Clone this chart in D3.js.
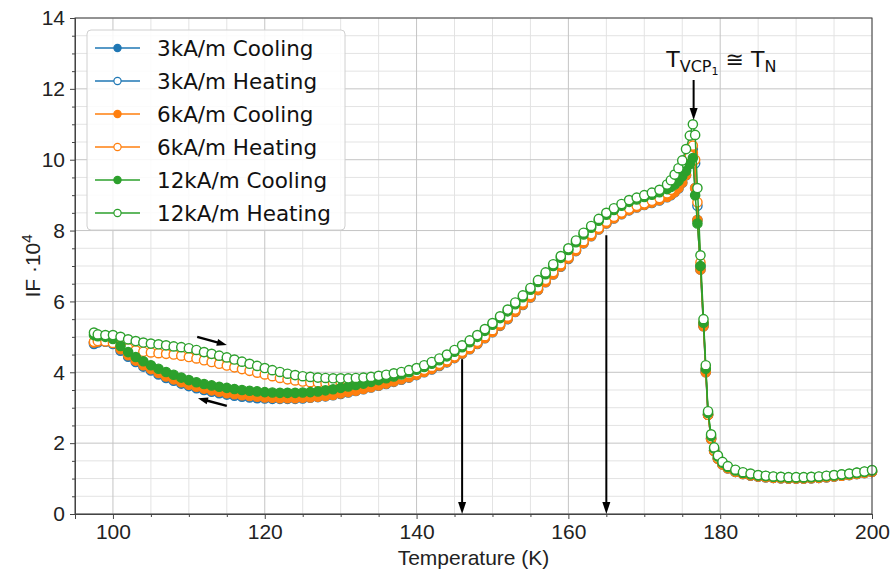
<!DOCTYPE html>
<html>
<head>
<meta charset="utf-8">
<script src="https://cdn.jsdelivr.net/npm/d3@7"></script>
<style>
  body { margin: 0; background: #fff; }
  svg { display: block; }
</style>
</head>
<body>
<div id="chart"></div>
<script>
"use strict";

// temperature (K), shared by all six series
const temps = [
  97.5, 98, 99, 100, 101, 102, 103, 104, 105, 106,
  107, 108, 109, 110, 111, 112, 113, 114, 115, 116,
  117, 118, 119, 120, 121, 122, 123, 124, 125, 126,
  127, 128, 129, 130, 131, 132, 133, 134, 135, 136,
  137, 138, 139, 140, 141, 142, 143, 144, 145, 146,
  147, 148, 149, 150, 151, 152, 153, 154, 155, 156,
  157, 158, 159, 160, 161, 162, 163, 164, 165, 166,
  167, 168, 169, 170, 171, 172, 173, 173.5, 174, 174.5,
  175, 175.5, 176, 176.4, 176.7, 177, 177.4, 177.8, 178.1, 178.4,
  178.8, 179.2, 179.7, 180.3, 181, 182, 183, 184, 185, 186,
  187, 188, 189, 190, 191, 192, 193, 194, 195, 196,
  197, 198, 199, 200,
];

const cool3 = [
  4.80, 4.84, 4.86, 4.80, 4.61, 4.44, 4.29, 4.16, 4.05, 3.94,
  3.84, 3.76, 3.68, 3.61, 3.55, 3.50, 3.45, 3.41, 3.37, 3.34,
  3.31, 3.29, 3.27, 3.26, 3.25, 3.25, 3.25, 3.25, 3.26, 3.28,
  3.30, 3.32, 3.35, 3.39, 3.43, 3.47, 3.52, 3.57, 3.62, 3.67,
  3.73, 3.79, 3.85, 3.92, 4.00, 4.08, 4.18, 4.28, 4.40, 4.52,
  4.65, 4.80, 4.96, 5.13, 5.31, 5.50, 5.70, 5.90, 6.11, 6.32,
  6.54, 6.76, 6.98, 7.20, 7.42, 7.64, 7.84, 8.03, 8.20, 8.34,
  8.46, 8.57, 8.65, 8.72, 8.78, 8.85, 8.94, 9.00, 9.08, 9.19,
  9.35, 9.56, 9.88, 10.15, 9.20, 8.30, 6.90, 5.30, 4.00, 2.80,
  2.12, 1.78, 1.56, 1.40, 1.29, 1.19, 1.13, 1.09, 1.06, 1.04,
  1.02, 1.01, 1.00, 1.00, 1.00, 1.01, 1.02, 1.04, 1.06, 1.08,
  1.10, 1.13, 1.16, 1.19,
];

const heat3 = [
  4.84, 4.87, 4.88, 4.84, 4.70, 4.55, 4.41, 4.28, 4.17, 4.06,
  3.96, 3.87, 3.79, 3.72, 3.66, 3.61, 3.56, 3.52, 3.48, 3.45,
  3.42, 3.40, 3.38, 3.36, 3.35, 3.34, 3.34, 3.34, 3.35, 3.36,
  3.38, 3.40, 3.43, 3.46, 3.50, 3.54, 3.58, 3.62, 3.67, 3.72,
  3.77, 3.83, 3.89, 3.95, 4.03, 4.11, 4.21, 4.31, 4.43, 4.55,
  4.68, 4.83, 4.99, 5.16, 5.34, 5.53, 5.73, 5.93, 6.14, 6.35,
  6.57, 6.79, 7.01, 7.23, 7.45, 7.67, 7.87, 8.06, 8.23, 8.37,
  8.49, 8.60, 8.68, 8.75, 8.81, 8.88, 8.98, 9.06, 9.16, 9.30,
  9.48, 9.72, 10.00, 10.30, 9.90, 8.70, 7.00, 5.35, 4.05, 2.80,
  2.14, 1.79, 1.57, 1.41, 1.29, 1.19, 1.13, 1.09, 1.06, 1.04,
  1.02, 1.01, 1.00, 1.00, 1.00, 1.01, 1.02, 1.04, 1.06, 1.08,
  1.10, 1.13, 1.16, 1.19,
];

const cool6 = [
  4.84, 4.87, 4.89, 4.84, 4.65, 4.48, 4.33, 4.20, 4.09, 3.98,
  3.88, 3.80, 3.72, 3.65, 3.59, 3.54, 3.49, 3.45, 3.41, 3.38,
  3.35, 3.33, 3.31, 3.29, 3.28, 3.27, 3.27, 3.27, 3.28, 3.29,
  3.31, 3.33, 3.36, 3.40, 3.44, 3.48, 3.53, 3.58, 3.63, 3.68,
  3.74, 3.80, 3.86, 3.93, 4.01, 4.09, 4.19, 4.29, 4.41, 4.53,
  4.66, 4.81, 4.97, 5.14, 5.32, 5.51, 5.71, 5.91, 6.12, 6.33,
  6.55, 6.77, 6.99, 7.21, 7.43, 7.65, 7.85, 8.04, 8.21, 8.35,
  8.47, 8.58, 8.66, 8.73, 8.79, 8.86, 8.95, 9.01, 9.09, 9.20,
  9.36, 9.57, 9.90, 10.20, 9.20, 8.30, 6.90, 5.30, 4.00, 2.80,
  2.12, 1.78, 1.56, 1.40, 1.29, 1.19, 1.13, 1.09, 1.06, 1.04,
  1.02, 1.01, 1.00, 1.00, 1.00, 1.01, 1.02, 1.04, 1.06, 1.08,
  1.10, 1.13, 1.16, 1.19,
];

const heat6 = [
  4.86, 4.88, 4.87, 4.83, 4.75, 4.68, 4.62, 4.58, 4.56, 4.54,
  4.52, 4.50, 4.47, 4.43, 4.39, 4.34, 4.29, 4.24, 4.19, 4.14,
  4.09, 4.04, 3.99, 3.94, 3.89, 3.84, 3.80, 3.77, 3.74, 3.72,
  3.71, 3.70, 3.70, 3.70, 3.71, 3.72, 3.74, 3.76, 3.79, 3.82,
  3.86, 3.90, 3.95, 4.00, 4.07, 4.15, 4.24, 4.34, 4.45, 4.58,
  4.71, 4.86, 5.02, 5.19, 5.38, 5.57, 5.77, 5.97, 6.18, 6.39,
  6.61, 6.83, 7.05, 7.26, 7.48, 7.70, 7.90, 8.08, 8.25, 8.39,
  8.51, 8.62, 8.70, 8.77, 8.84, 8.92, 9.05, 9.15, 9.28, 9.43,
  9.62, 9.85, 10.12, 10.40, 10.00, 8.80, 7.10, 5.40, 4.10, 2.80,
  2.15, 1.80, 1.58, 1.42, 1.30, 1.20, 1.14, 1.10, 1.07, 1.05,
  1.03, 1.02, 1.01, 1.01, 1.01, 1.02, 1.03, 1.05, 1.07, 1.09,
  1.11, 1.14, 1.17, 1.20,
];

const cool12 = [
  5.05, 5.02, 5.00, 4.94, 4.74, 4.57, 4.43, 4.31, 4.20, 4.10,
  4.01, 3.93, 3.85, 3.78, 3.72, 3.67, 3.63, 3.59, 3.56, 3.53,
  3.50, 3.48, 3.46, 3.44, 3.43, 3.42, 3.42, 3.42, 3.43, 3.44,
  3.46, 3.49, 3.52, 3.56, 3.60, 3.64, 3.68, 3.73, 3.78, 3.83,
  3.88, 3.94, 4.00, 4.07, 4.15, 4.24, 4.34, 4.45, 4.58, 4.71,
  4.85, 5.00, 5.17, 5.34, 5.53, 5.72, 5.92, 6.12, 6.33, 6.55,
  6.77, 7.00, 7.23, 7.45, 7.67, 7.89, 8.08, 8.28, 8.45, 8.58,
  8.70, 8.81, 8.88, 8.95, 9.01, 9.08, 9.17, 9.23, 9.30, 9.40,
  9.53, 9.68, 9.88, 10.05, 9.00, 8.20, 7.00, 5.40, 4.10, 2.85,
  2.20, 1.85, 1.62, 1.45, 1.33, 1.23, 1.16, 1.12, 1.09, 1.07,
  1.05, 1.04, 1.03, 1.03, 1.03, 1.04, 1.05, 1.07, 1.09, 1.11,
  1.13, 1.16, 1.19, 1.23,
];

const heat12 = [
  5.12, 5.07, 5.05, 5.05, 5.00, 4.93, 4.88, 4.84, 4.81, 4.79,
  4.76, 4.73, 4.71, 4.68, 4.63, 4.57, 4.52, 4.47, 4.42, 4.36,
  4.30, 4.24, 4.18, 4.12, 4.06, 4.01, 3.96, 3.92, 3.89, 3.87,
  3.85, 3.84, 3.83, 3.83, 3.83, 3.84, 3.85, 3.87, 3.90, 3.93,
  3.97, 4.01, 4.06, 4.12, 4.20, 4.29, 4.39, 4.50, 4.63, 4.76,
  4.90, 5.05, 5.22, 5.39, 5.58, 5.77, 5.97, 6.17, 6.38, 6.60,
  6.82, 7.05, 7.28, 7.50, 7.72, 7.94, 8.13, 8.33, 8.50, 8.63,
  8.75, 8.86, 8.93, 9.00, 9.07, 9.15, 9.30, 9.42, 9.58, 9.76,
  9.98, 10.30, 10.68, 11.00, 10.70, 9.20, 7.30, 5.50, 4.20, 2.90,
  2.25, 1.88, 1.65, 1.47, 1.35, 1.25, 1.18, 1.14, 1.10, 1.08,
  1.06, 1.05, 1.04, 1.04, 1.04, 1.05, 1.06, 1.08, 1.10, 1.12,
  1.14, 1.17, 1.20, 1.24,
];

const seriesNames = [
  "3kA/m Cooling",
  "3kA/m Heating",
  "6kA/m Cooling",
  "6kA/m Heating",
  "12kA/m Cooling",
  "12kA/m Heating",
];
const seriesValues = [cool3, heat3, cool6, heat6, cool12, heat12];

const xMajorTicks = [100, 120, 140, 160, 180, 200];
const xMinorTicks = [95, 105, 110, 115, 125, 130, 135, 145, 150, 155, 165, 170, 175, 185, 190, 195];
const yMajorTicks = [0, 2, 4, 6, 8, 10, 12, 14];
const yMinorTicks = [0.5, 1, 1.5, 2.5, 3, 3.5, 4.5, 5, 5.5, 6.5, 7, 7.5, 8.5, 9, 9.5,
  10.5, 11, 11.5, 12.5, 13, 13.5];

// annotation arrows: [T, IF from, IF to]
const markerArrows = [
  [146, 4.37, 0],
  [165, 7.87, 0],
  [176.5, 12.25, 11.12],
];
// sweep direction arrows: [T0, IF0, T1, IF1]
const sweepArrows = [
  [111.1, 5.0, 115.0, 4.77],
  [115.0, 3.05, 111.2, 3.27],
];
const peakLabelAt = [172.9, 12.62];

const colors = ["#1f77b4", "#1f77b4", "#ff7f0e", "#ff7f0e", "#2ca02c", "#2ca02c"];

const W = 894;
const H = 574;
const margin = { top: 18, right: 22, bottom: 60, left: 75 };
const markerR = 4.6;

function draw() {
  const svg = d3
    .select("#chart")
    .append("svg")
    .attr("width", W)
    .attr("height", H);

  const x = d3.scaleLinear().domain([95, 200]).range([margin.left, W - margin.right]);
  const y = d3.scaleLinear().domain([0, 14]).range([H - margin.bottom, margin.top]);

  const x0 = x.range()[0], x1 = x.range()[1];
  const y0 = y.range()[0], y1 = y.range()[1];

  // grid, minor first then major
  const grid = svg.append("g");
  function vGrid(ticks, color) {
    grid.append("g")
      .selectAll("line")
      .data(ticks)
      .enter()
      .append("line")
      .attr("x1", (d) => x(d)).attr("x2", (d) => x(d))
      .attr("y1", y1).attr("y2", y0)
      .attr("stroke", color);
  }
  function hGrid(ticks, color) {
    grid.append("g")
      .selectAll("line")
      .data(ticks)
      .enter()
      .append("line")
      .attr("x1", x0).attr("x2", x1)
      .attr("y1", (d) => y(d)).attr("y2", (d) => y(d))
      .attr("stroke", color);
  }
  vGrid(xMinorTicks, "#e3e3e3");
  hGrid(yMinorTicks, "#e3e3e3");
  vGrid(xMajorTicks, "#c4c4c4");
  hGrid(yMajorTicks, "#c4c4c4");

  // data
  const line = d3
    .line()
    .x((d) => x(d[0]))
    .y((d) => y(d[1]));

  const plot = svg.append("g");
  seriesValues.forEach((vals, i) => {
    const pts = temps.map((t, k) => [t, vals[k]]);
    const open = i % 2 === 1;
    const g = plot.append("g");
    g.append("path")
      .datum(pts)
      .attr("d", line)
      .attr("fill", "none")
      .attr("stroke", colors[i])
      .attr("stroke-width", 1.5);
    g.selectAll("circle")
      .data(pts)
      .enter()
      .append("circle")
      .attr("cx", (d) => x(d[0]))
      .attr("cy", (d) => y(d[1]))
      .attr("r", markerR)
      .attr("fill", open ? "#fff" : colors[i])
      .attr("stroke", colors[i])
      .attr("stroke-width", 1.4);
  });

  // frame
  svg.append("rect")
    .attr("x", x0).attr("y", y1)
    .attr("width", x1 - x0).attr("height", y0 - y1)
    .attr("fill", "none")
    .attr("stroke", "#444")
    .attr("stroke-width", 1);

  // axes
  const tickFont = "'Liberation Sans', Arial, sans-serif";
  const xAxis = svg.append("g").attr("transform", `translate(0,${y0})`);
  xAxis.call(d3.axisBottom(x).tickValues(xMajorTicks).tickSize(5).tickPadding(5).tickFormat(d3.format("d")));
  const xMinor = svg.append("g").attr("transform", `translate(0,${y0})`);
  xMinor.call(d3.axisBottom(x).tickValues(xMinorTicks).tickSize(3).tickFormat(""));

  const yAxis = svg.append("g").attr("transform", `translate(${x0},0)`);
  yAxis.call(d3.axisLeft(y).tickValues(yMajorTicks).tickSize(5).tickPadding(5).tickFormat(d3.format("d")));
  const yMinor = svg.append("g").attr("transform", `translate(${x0},0)`);
  yMinor.call(d3.axisLeft(y).tickValues(yMinorTicks).tickSize(3).tickFormat(""));

  [xAxis, xMinor, yAxis, yMinor].forEach((a) => {
    a.select(".domain").attr("stroke", "#444");
    a.selectAll(".tick line").attr("stroke", "#444");
    a.selectAll("text")
      .attr("font-family", tickFont)
      .attr("font-size", 21)
      .attr("fill", "#222");
  });

  // axis labels
  svg.append("text")
    .attr("x", (x0 + x1) / 2)
    .attr("y", H - 9)
    .attr("text-anchor", "middle")
    .attr("font-family", tickFont)
    .attr("font-size", 21)
    .attr("fill", "#222")
    .text("Temperature (K)");

  const yl = svg.append("text")
    .attr("transform", `translate(40,${(y0 + y1) / 2}) rotate(-90)`)
    .attr("text-anchor", "middle")
    .attr("font-family", tickFont)
    .attr("font-size", 21)
    .attr("fill", "#222");
  yl.append("tspan").text("IF ·10");
  yl.append("tspan").attr("dy", -8).attr("font-size", 15).text("4");

  // arrows
  const ann = svg.append("g");
  function arrow(ax, ay, bx, by, headLen, headW, sw) {
    const dx = bx - ax, dy = by - ay;
    const len = Math.sqrt(dx * dx + dy * dy);
    const ux = dx / len, uy = dy / len;
    const baseX = bx - ux * headLen, baseY = by - uy * headLen;
    ann.append("line")
      .attr("x1", ax).attr("y1", ay)
      .attr("x2", baseX + ux).attr("y2", baseY + uy)
      .attr("stroke", "#000")
      .attr("stroke-width", sw);
    const px = -uy * headW / 2, py = ux * headW / 2;
    ann.append("path")
      .attr("d", `M${bx},${by}L${baseX + px},${baseY + py}L${baseX - px},${baseY - py}Z`)
      .attr("fill", "#000");
  }
  markerArrows.forEach((a) => arrow(x(a[0]), y(a[1]), x(a[0]), y(a[2]), 12, 8, 2));
  sweepArrows.forEach((a) => arrow(x(a[0]), y(a[1]), x(a[2]), y(a[3]), 10, 7, 2.4));

  // peak label
  const lbl = svg.append("text")
    .attr("x", x(peakLabelAt[0]))
    .attr("y", y(peakLabelAt[1]))
    .attr("font-family", "'DejaVu Sans', sans-serif")
    .attr("font-size", 22)
    .attr("fill", "#111");
  lbl.append("tspan").text("T");
  lbl.append("tspan").attr("dy", 5).attr("font-size", 16).text("VCP");
  lbl.append("tspan").attr("dy", 3).attr("font-size", 11).text("1");
  lbl.append("tspan").attr("dy", -8).attr("font-size", 22).text(" \u2245 T");
  lbl.append("tspan").attr("dy", 5).attr("font-size", 16).text("N");

  // legend
  const lg = svg.append("g");
  lg.append("rect")
    .attr("x", 87).attr("y", 30)
    .attr("width", 258).attr("height", 200)
    .attr("rx", 4)
    .attr("fill", "#fff")
    .attr("fill-opacity", 0.85)
    .attr("stroke", "#d0d0d0");
  seriesNames.forEach((name, i) => {
    const cy = 48 + i * 33;
    const open = i % 2 === 1;
    lg.append("line")
      .attr("x1", 95).attr("x2", 140)
      .attr("y1", cy).attr("y2", cy)
      .attr("stroke", colors[i])
      .attr("stroke-width", 1.5);
    lg.append("circle")
      .attr("cx", 117.5).attr("cy", cy)
      .attr("r", 3.6)
      .attr("fill", open ? "#fff" : colors[i])
      .attr("stroke", colors[i])
      .attr("stroke-width", 1.2);
    lg.append("text")
      .attr("x", 157).attr("y", cy + 8)
      .attr("font-family", "'DejaVu Sans', sans-serif")
      .attr("font-size", 21.5)
      .attr("fill", "#111")
      .text(name);
  });
}

draw();
</script>
</body>
</html>
